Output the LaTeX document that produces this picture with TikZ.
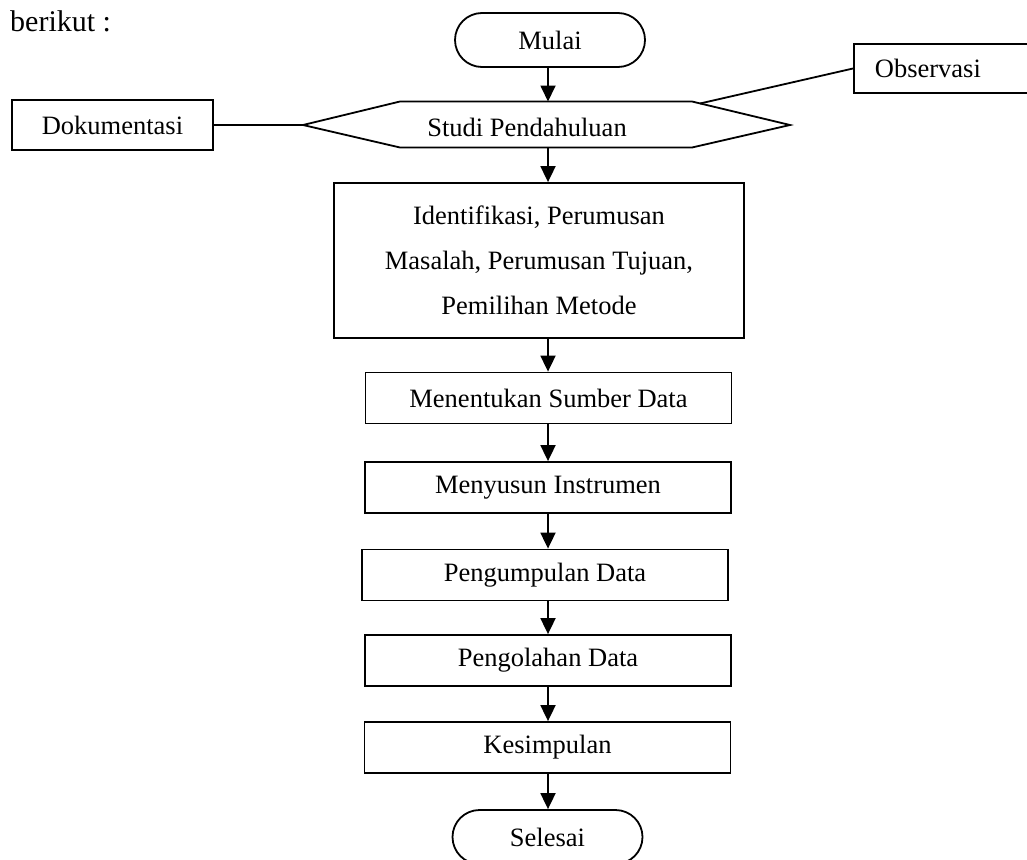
\documentclass[tikz,border=0pt]{standalone}
\usepackage{fontspec}
\setmainfont{Liberation Serif}
\usetikzlibrary{arrows.meta,shapes.misc,calc}
\begin{document}
\begin{tikzpicture}[x=1pt,y=-1pt,
  every node/.style={font=\fontsize{26.5}{45}\selectfont},
  line/.style={line width=1.8pt},
  procbox/.style={draw,line width=1.8pt,rectangle,inner sep=0pt,minimum width=366pt,minimum height=51pt},
  term/.style={draw,line width=1.8pt,rounded rectangle,minimum width=190pt,minimum height=54pt,inner sep=0pt},
  arr/.style={line width=1.8pt,-{Triangle[width=15pt,length=16pt]}}
]
\useasboundingbox (0,0) rectangle (1027,859);
\clip (0,0) rectangle (1027,859);

\node[anchor=base west, inner sep=0pt, font=\fontsize{30}{36}\selectfont] (berikut) at (10,32) {berikut :};

\coordinate (ax) at (548,0);

\node[term] (mulai) at (550,40) {Mulai};

\coordinate (hL) at (303,125);
\coordinate (hTL) at (400,101.5);
\coordinate (hTR) at (692,101.5);
\coordinate (hR) at (790,125);
\coordinate (hBR) at (692,147.5);
\coordinate (hBL) at (400,147.5);
\draw[line, line join=miter] (hL) -- (hTL) -- (hTR) -- (hR) -- (hBR) -- (hBL) -- cycle;
\node (studi) at (527,127) {Studi Pendahuluan};
\coordinate (hTop) at (548,101.5);
\coordinate (hBot) at (548,147.5);
\coordinate (hObs) at (700,103.5);

\node[procbox, minimum width=201pt, minimum height=50pt] (dok) at (112.5,125) {Dokumentasi};
\node[draw, line width=1.8pt, anchor=west, minimum height=49pt, minimum width=200pt, text width=158pt, inner xsep=21pt, inner ysep=0pt, align=left] (obs) at (853,68.5) {Observasi};

\node[procbox, minimum width=410pt, minimum height=155pt, align=center] (ident) at (539,260.5) {Identifikasi, Perumusan\\Masalah, Perumusan Tujuan,\\Pemilihan Metode};
\node[procbox] (sumber) at (548.5,398) {Menentukan Sumber Data};
\node[procbox] (instr) at (548,487.5) {Menyusun Instrumen};
\node[procbox] (kumpul) at (545,575) {Pengumpulan Data};
\node[procbox] (olah) at (548,660.5) {Pengolahan Data};
\node[procbox] (simpul) at (547.5,747.5) {Kesimpulan};
\node[term] (selesai) at (547.5,837) {Selesai};

\draw[line] (dok.east) -- (hL);
\draw[line] (obs.west) -- (hObs);

\draw[arr] (mulai.south -| ax) -- (hTop);
\draw[arr] (hBot) -- (ident.north -| ax);
\draw[arr] (ident.south -| ax) -- (sumber.north -| ax);
\draw[arr] (sumber.south -| ax) -- (instr.north -| ax);
\draw[arr] (instr.south -| ax) -- (kumpul.north -| ax);
\draw[arr] (kumpul.south -| ax) -- (olah.north -| ax);
\draw[arr] (olah.south -| ax) -- (simpul.north -| ax);
\draw[arr] (simpul.south -| ax) -- (selesai.north -| ax);
\end{tikzpicture}
\end{document}
